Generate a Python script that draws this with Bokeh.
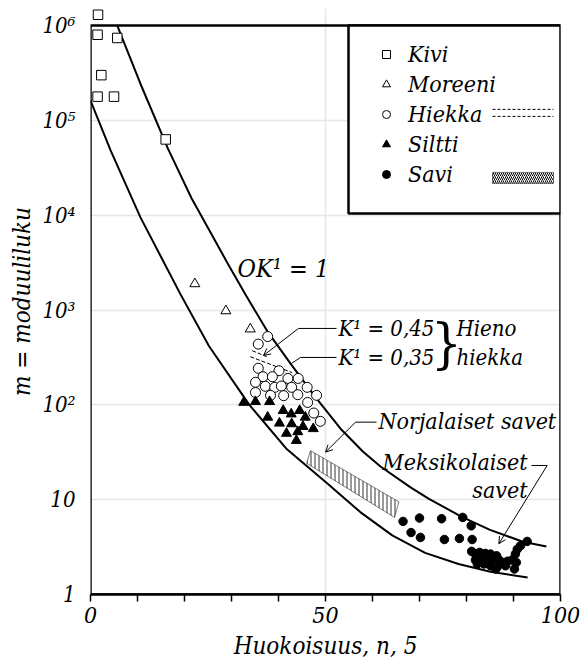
import math
from bokeh.plotting import figure
from bokeh.models import (Range1d, FixedTicker, Label, Legend, LegendItem,
                          BoxAnnotation, Arrow, OpenHead)
from bokeh.embed import file_html
from bokeh.resources import INLINE

# ---------------- data ----------------
kivi_n = [1.6, 1.5, 5.7, 2.3, 1.5, 5.0, 16.0]
kivi_m = [1.3e6, 8.0e5, 7.4e5, 3.0e5, 1.78e5, 1.78e5, 6.3e4]

moreeni_n = [22.2, 28.8, 34.0]
moreeni_m = [1890, 980, 630]

hiekka_n = [37.7, 35.7, 35.7, 40.1, 36.7, 38.7, 42.0, 44.2, 35.1, 37.2, 39.2,
            40.6, 42.8, 46.1, 35.1, 38.3, 41.1, 44.1, 48.1, 46.2, 47.5, 48.9]
hiekka_m = [525, 437, 243, 229, 198, 198, 190, 190, 173, 157, 153,
            158, 153, 153, 135, 126, 125, 128, 126, 106, 82, 67]

siltti_n = [32.6, 35.1, 38.1, 41.0, 42.7, 44.5, 37.7, 40.2, 42.8, 45.7, 45.2,
            47.4, 41.7, 44.1, 43.8]
siltti_m = [106, 108, 108, 87, 80, 87, 74, 64, 63, 74, 59, 56, 50, 52, 42]

savi_n = [66.5, 70.0, 74.7, 79.2, 81.0, 68.2, 70.2, 75.3, 78.5, 81.2, 81.1,
          81.9, 82.8, 84.0, 85.1, 86.4, 81.9, 83.0, 84.4, 85.5, 86.9, 82.3,
          83.7, 85.1, 86.2, 87.6, 88.7, 89.7, 90.2, 90.4, 90.8, 91.5, 92.9,
          86.5, 82.6, 84.7, 90.6, 88.3]
savi_m = [5.9, 6.4, 6.3, 6.5, 5.3, 4.5, 4.0, 3.8, 3.9, 3.8, 2.85,
          2.67, 2.78, 2.71, 2.67, 2.56, 2.31, 2.37, 2.28, 2.31, 2.31, 2.10,
          2.10, 2.01, 1.86, 2.18, 2.24, 2.31, 1.86, 2.67, 3.0, 3.27, 3.63,
          1.93, 2.56, 2.43, 2.18, 2.01]

# OK' = 1 band limits
upper_n = [5.7, 10.6, 16.5, 21.5, 29.1, 33.0, 37.6, 42.6, 47.9, 53.2, 58.0,
           61.7, 68.1, 72.0, 79.0, 85.0, 92.0, 97.0]
upper_m = [1.0e6, 2.45e5, 5.0e4, 1.51e4, 3160, 1450, 600, 270, 120, 56, 32,
           22.4, 13.5, 10.2, 6.6, 4.8, 3.6, 3.2]
lower_n = [0, 4.3, 10.6, 19.1, 25.2, 33.8, 41.8, 50.4, 57.4, 64.2, 71.2,
           78.3, 85.1, 93.0]
lower_m = [1.62e5, 4.8e4, 9550, 1480, 417, 100, 34, 14.8, 7.4, 4.2, 2.75,
           2.1, 1.74, 1.51]

# fine sand lines K' = 0.45 and K' = 0.35
k045_n = [34.4, 37.5]
k045_m = [373, 322]
k035_n = [34.0, 42.9]
k035_m = [322, 219]

# Norwegian clays band
norja_n = [46.8, 65.6, 64.7, 46.0]
norja_m = [32.9, 9.5, 6.5, 24.2]

xtick_vals = [0, 10, 20, 30, 40, 50, 60, 70, 80, 90, 100]
xtick_text = {0: "0", 50: "50", 100: "100"}
ytick_vals = [1, 10, 100, 1000, 10000, 100000, 1000000]
ytick_text = ["1", "10", "10²", "10³", "10⁴", "10⁵", "10⁶"]

# ---------------- layout helpers ----------------
FONT = "DejaVu Serif Condensed"
FS = "23px"
L, R, B = 90, 560, 594
DEC = 94.8
TOP_LOG = 6.18


def fx(px):
    return (px - L) / (R - L) * 100.0


def fy(py):
    return 10 ** ((B - py) / DEC)


p = figure(width=584, height=666, x_range=Range1d(0, 100),
           y_range=Range1d(1, 10 ** TOP_LOG), y_axis_type="log",
           output_backend="svg", toolbar_location=None,
           min_border_left=L, min_border_right=584 - R,
           min_border_top=8, min_border_bottom=666 - B)
p.outline_line_color = None
p.background_fill_color = "white"
p.border_fill_color = "white"

xa = p.xaxis[0]
xa.ticker = FixedTicker(ticks=xtick_vals)
xa.major_label_overrides = {v: xtick_text.get(v, "") for v in xtick_vals}
xa.major_tick_out = 7
xa.major_tick_in = 0
xa.major_tick_line_color = "black"
xa.major_tick_line_width = 1.5
xa.minor_tick_out = 0
xa.minor_tick_in = 0
xa.axis_line_color = "black"
xa.axis_line_width = 2.5
xa.major_label_text_font = FONT
xa.major_label_text_font_style = "italic"
xa.major_label_text_font_size = FS
xa.major_label_text_color = "black"
xa.major_label_standoff = 5
xa.axis_label = "Huokoisuus, n, 5"
xa.axis_label_text_font = FONT
xa.axis_label_text_font_style = "italic"
xa.axis_label_text_font_size = "24px"
xa.axis_label_text_color = "black"
xa.axis_label_standoff = 6

ya = p.yaxis[0]
ya.ticker = FixedTicker(ticks=ytick_vals)
ya.major_label_overrides = dict(zip(ytick_vals, ytick_text))
ya.major_tick_out = 0
ya.major_tick_in = 0
ya.minor_tick_out = 0
ya.minor_tick_in = 0
ya.axis_line_color = None
ya.major_label_text_font = FONT
ya.major_label_text_font_style = "italic"
ya.major_label_text_font_size = "22px"
ya.major_label_text_color = "black"
ya.major_label_standoff = 15
ya.axis_label = "m = moduuliluku"
ya.axis_label_text_font = FONT
ya.axis_label_text_font_style = "italic"
ya.axis_label_text_font_size = "24px"
ya.axis_label_text_color = "black"
ya.axis_label_standoff = 3

p.xgrid.ticker = FixedTicker(ticks=[50])
p.ygrid.ticker = FixedTicker(ticks=[10, 100, 1000, 1e4, 1e5])
for g in (p.xgrid[0], p.ygrid[0]):
    g.grid_line_color = "#e6e6e6"
    g.grid_line_width = 1.5

# curves
p.line(upper_n, upper_m, line_color="black", line_width=2)
p.line(lower_n, lower_m, line_color="black", line_width=2)

# Norwegian clay band
p.patch(norja_n, norja_m, fill_color="white", hatch_pattern="|",
        hatch_scale=4, hatch_weight=0.8, hatch_color="black",
        line_color="black", line_width=0.5)

# fine sand dashed lines
p.line(k045_n, k045_m, line_color="black", line_width=1, line_dash="4 2")
p.line(k035_n, k035_m, line_color="black", line_width=1, line_dash="4 2")

r_kivi = p.scatter(kivi_n, kivi_m, marker="square", size=9.5,
                   fill_color="white", line_color="black", line_width=1)
r_mor = p.scatter(moreeni_n, moreeni_m, marker="triangle", size=10,
                  fill_color="white", line_color="black", line_width=1)
r_hie = p.scatter(hiekka_n, hiekka_m, marker="circle", size=10,
                  fill_color="white", line_color="black", line_width=1)
r_sil = p.scatter(siltti_n, siltti_m, marker="triangle", size=10,
                  fill_color="black", line_color="black", line_width=1)
r_savi = p.scatter(savi_n, savi_m, marker="circle", size=8.5,
                   fill_color="black", line_color="black", line_width=1)

# frame box
p.add_layout(BoxAnnotation(left=0, right=100, bottom=1, top=1e6,
                           fill_color=None, fill_alpha=0.0,
                           line_color="black", line_alpha=1.0,
                           line_width=2.5))
# legend box
p.add_layout(BoxAnnotation(left=fx(348), right=100, bottom=fy(213), top=1e6,
                           fill_color="white", fill_alpha=1.0,
                           line_color="black", line_alpha=1.0,
                           line_width=2.5))

legend = Legend(items=[LegendItem(label="Kivi", renderers=[r_kivi]),
                       LegendItem(label="Moreeni", renderers=[r_mor]),
                       LegendItem(label="Hiekka", renderers=[r_hie]),
                       LegendItem(label="Siltti", renderers=[r_sil]),
                       LegendItem(label="Savi", renderers=[r_savi])],
                location=(286, 407), orientation="vertical",
                border_line_color=None, background_fill_alpha=0.0,
                padding=10, spacing=3, glyph_width=20, glyph_height=20,
                label_height=27, label_standoff=12,
                label_text_font=FONT, label_text_font_style="italic",
                label_text_font_size=FS, label_text_color="black")
p.add_layout(legend)

# legend samples: dashed lines for Hiekka, hatch for Savi
for py in (109, 116):
    p.add_layout(Arrow(x_start=fx(492), y_start=fy(py), x_end=fx(553),
                       y_end=fy(py), start=None, end=None,
                       line_color="black", line_width=1, line_dash="3 2"))
p.add_layout(BoxAnnotation(left=fx(492), right=fx(553), top=fy(172),
                           bottom=fy(183), fill_color="white", fill_alpha=1.0,
                           hatch_pattern="/", hatch_scale=4, hatch_weight=1.0,
                           hatch_color="black", hatch_alpha=1.0,
                           line_color="black", line_alpha=1.0,
                           line_width=0.5))


def note(px, py, text, size=FS, align="left", font=FONT):
    p.add_layout(Label(x=fx(px), y=fy(py), text=text, text_align=align,
                       text_baseline="middle", text_font=font,
                       text_font_style="italic", text_font_size=size,
                       text_color="black"))


def seg(a, b, head=False):
    p.add_layout(Arrow(x_start=fx(a[0]), y_start=fy(a[1]),
                       x_end=fx(b[0]), y_end=fy(b[1]), start=None,
                       end=OpenHead(size=7, line_width=1) if head else None,
                       line_color="black", line_width=1))


note(237, 268, "OK¹ = 1", size="25px")
note(338, 328, "K¹ = 0,45", size="22px")
note(338, 357, "K¹ = 0,35", size="22px")
p.add_layout(Label(x=fx(446), y=fy(343), text="}", text_align="center",
                   text_baseline="middle", text_font=FONT,
                   text_font_size="54px", text_color="black"))
note(456, 328, "Hieno", size="22px")
note(456, 357, "hiekka", size="22px")
note(378, 421, "Norjalaiset savet")
note(527, 462, "Meksikolaiset", align="right")
note(527, 490, "savet", align="right")

seg((336, 328), (298, 328))
seg((298, 328), (263, 355), head=True)
seg((336, 357), (300, 357))
seg((300, 357), (291, 363))
seg((376, 421.7), (355, 421.7))
seg((355, 421.7), (325, 451.7), head=True)
seg((531, 465), (546.7, 465))
seg((546.7, 465), (498.3, 543.3), head=True)

open("out.html", "w").write(file_html(p, INLINE))
